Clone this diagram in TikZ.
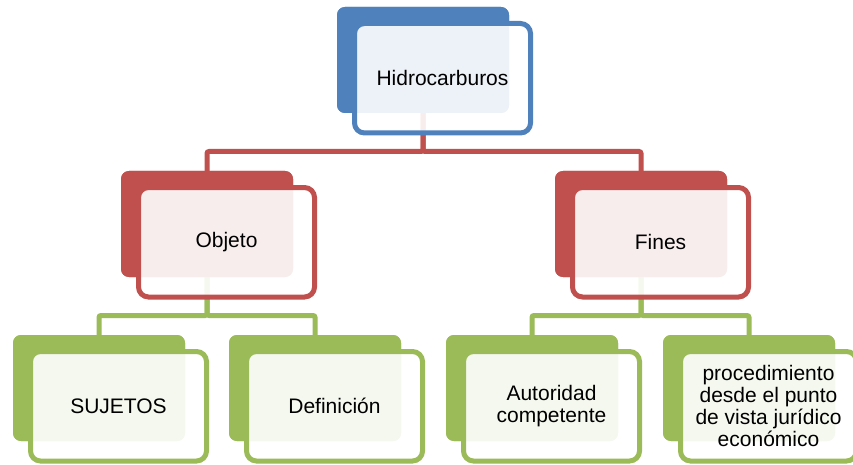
\documentclass[tikz,border=0pt]{standalone}
\usepackage{fontspec}
\setmainfont{Liberation Sans}
\definecolor{cblue}{HTML}{4F81BD}
\definecolor{cred}{HTML}{C0504D}
\definecolor{cgreen}{HTML}{9BBB59}
\tikzset{
  backbox/.style={rectangle, rounded corners=8pt, draw=none, fill=#1, anchor=north west,
    minimum width=172pt, minimum height=106pt, inner sep=0pt, outer sep=0pt},
  frontbox/.style={rectangle, rounded corners=10pt, draw=#1, line width=5pt,
    fill=white, fill opacity=0.9, text opacity=1, anchor=north west,
    minimum width=176pt, minimum height=109.5pt, inner sep=0pt, outer sep=0pt,
    align=center, font=\fontsize{21pt}{22pt}\selectfont},
  conn/.style={draw=#1, line width=5pt, rounded corners=2pt},
}
\begin{document}
\begin{tikzpicture}[x=1pt,y=-1pt]
\clip (0,0) rectangle (853,465);
\fill[white] (0,0) rectangle (853,465);
% back boxes (nodes placed first for connector anchors)
\path
  node[backbox=cblue] (hb) at (337,7) {}
  node[backbox=cred] (ob) at (121,171) {}
  node[backbox=cred] (fb) at (555,171) {}
  node[backbox=cgreen] (sb) at (13,335) {}
  node[backbox=cgreen] (db) at (229,335) {}
  node[backbox=cgreen] (ab) at (446,335) {}
  node[backbox=cgreen] (pb) at (663,335) {};
% connectors
\draw[conn=cred] (hb.south) -- ++(0,38.5) -| (ob.north);
\draw[conn=cred] (hb.south) -- ++(0,38.5) -| (fb.north);
\draw[conn=cgreen] (ob.south) -- ++(0,38.5) -| (sb.north);
\draw[conn=cgreen] (ob.south) -- ++(0,38.5) -| (db.north);
\draw[conn=cgreen] (fb.south) -- ++(0,38.5) -| (ab.north);
\draw[conn=cgreen] (fb.south) -- ++(0,38.5) -| (pb.north);
% redraw back boxes over connectors
\path
  node[backbox=cblue] at (337,7) {}
  node[backbox=cred] at (121,171) {}
  node[backbox=cred] at (555,171) {}
  node[backbox=cgreen] at (13,335) {}
  node[backbox=cgreen] at (229,335) {}
  node[backbox=cgreen] at (446,335) {}
  node[backbox=cgreen] at (663,335) {};
% front boxes
\node[frontbox=cblue] (hf) at (354.5,23.5) {Hidrocarburos};
\node[frontbox=cred] (of) at (138.5,187.5) {Objeto};
\node[frontbox=cred] (ff) at (572.5,187.5) {Fines};
\node[frontbox=cgreen] (sf) at (30.5,351.5) {SUJETOS};
\node[frontbox=cgreen] (df) at (246.5,351.5) {Definición};
\node[frontbox=cgreen] (af) at (463.5,351.5) {Autoridad\\competente};
\node[frontbox=cgreen] (pf) at (680.5,351.5) {procedimiento\\desde el punto\\de vista jurídico\\económico};
\end{tikzpicture}
\end{document}
